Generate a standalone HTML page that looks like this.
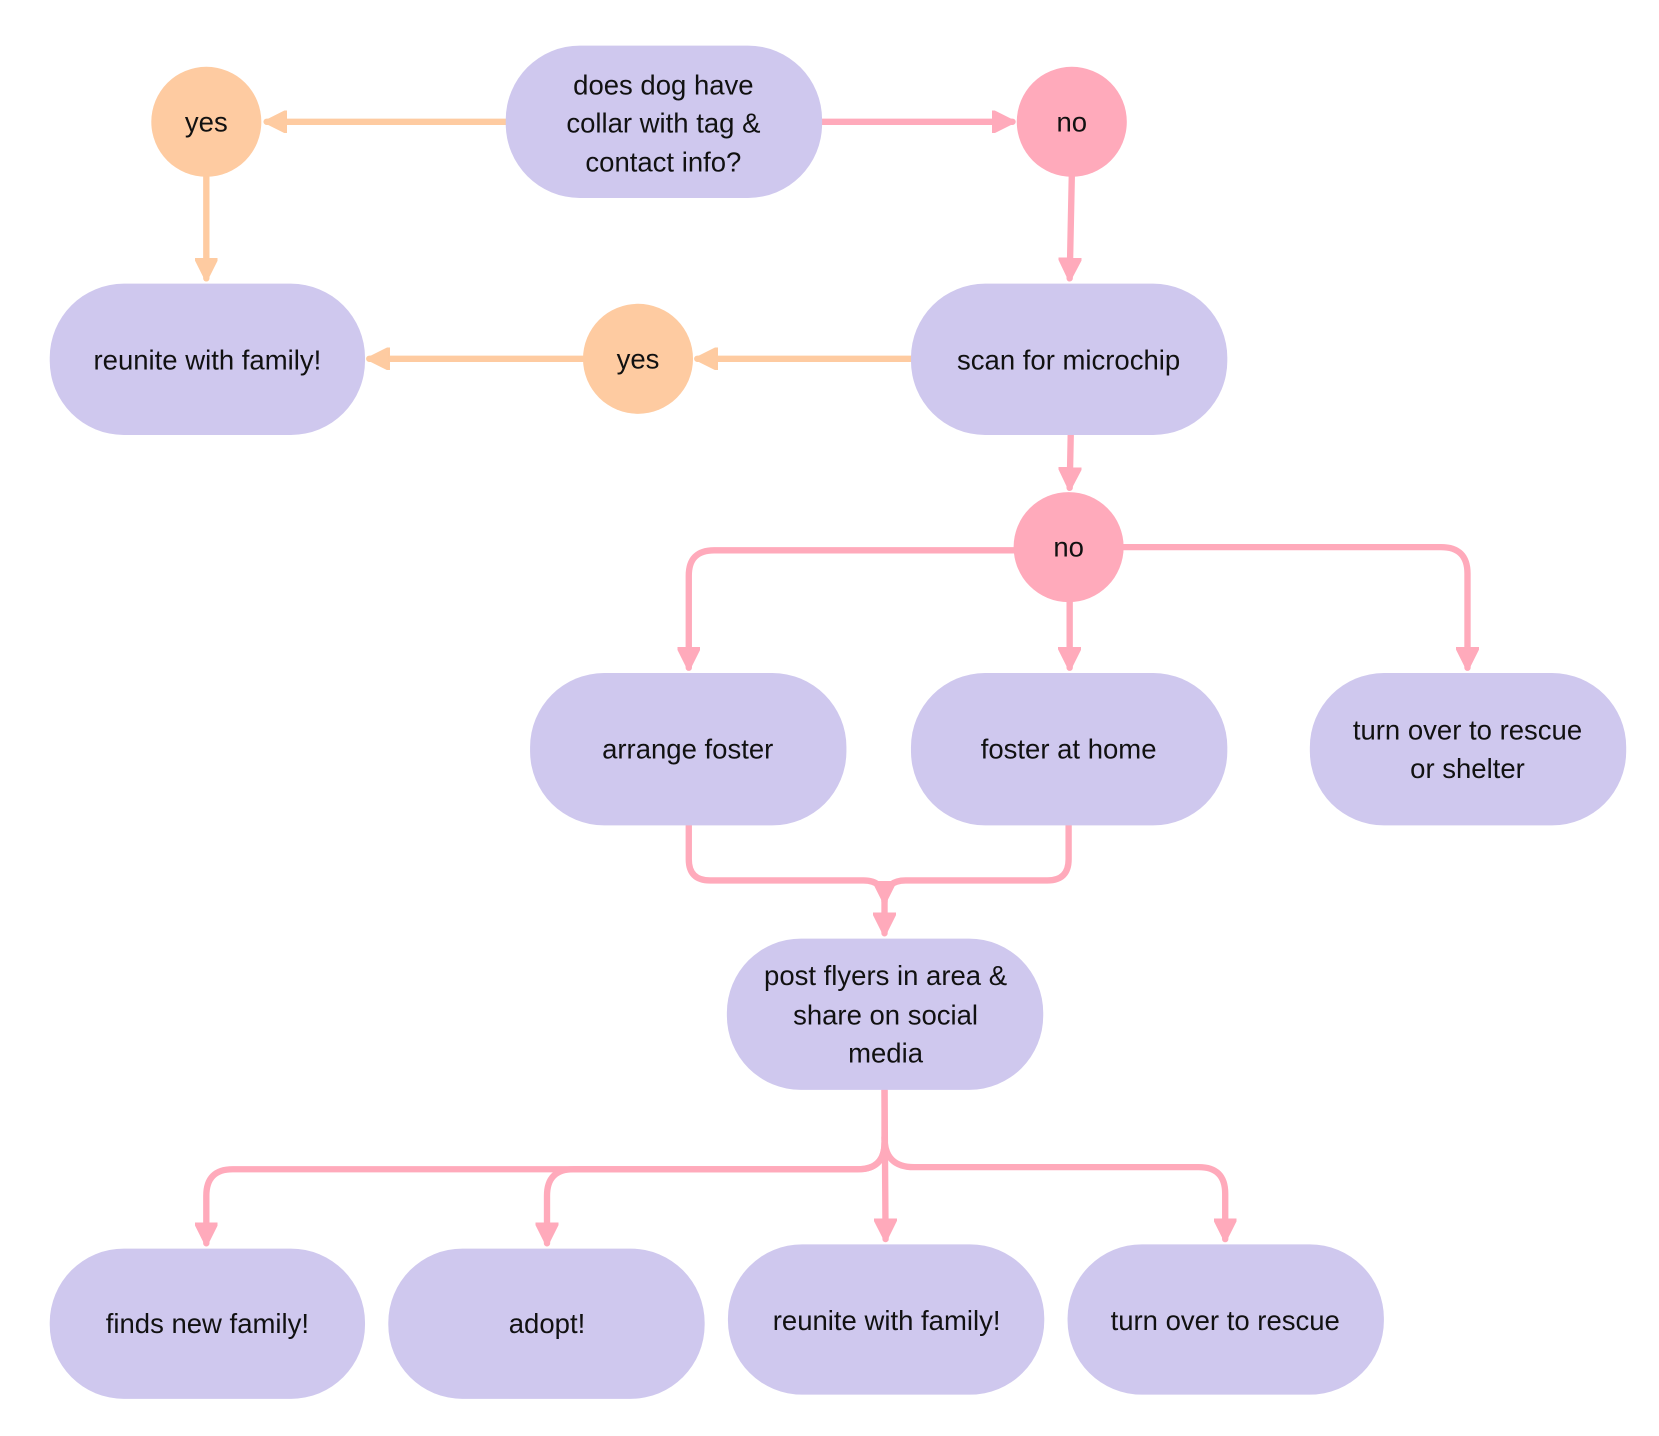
<!DOCTYPE html>
<html><head><meta charset="utf-8"><style>
html,body{margin:0;padding:0;background:#fff;}
svg{display:block;}
text{font-family:"Liberation Sans",sans-serif;font-size:26px;fill:#111;text-anchor:middle;}
</style></head><body>
<svg width="1659" height="1436" viewBox="0 0 1568 1357" xmlns="http://www.w3.org/2000/svg">
<defs>
<marker id="ao" viewBox="0 0 10 10" refX="9" refY="5" markerWidth="3.6" markerHeight="3.6" orient="auto" markerUnits="strokeWidth"><path d="M0,0 L10,5 L0,10 z" fill="#FECBA1" stroke="#FECBA1" stroke-linejoin="round"/></marker>
<marker id="ap" viewBox="0 0 10 10" refX="9" refY="5" markerWidth="3.6" markerHeight="3.6" orient="auto" markerUnits="strokeWidth"><path d="M0,0 L10,5 L0,10 z" fill="#FFAABB" stroke="#FFAABB" stroke-linejoin="round"/></marker>
</defs>
<g fill="none" stroke-width="6" stroke-linecap="round">
<g stroke="#FECBA1" marker-end="url(#ao)">
<path d="M478,115 L252,115"/>
<path d="M195,167 L195,263"/>
<path d="M861,339 L659,339"/>
<path d="M551,339 L349,339"/>
</g>
<g stroke="#FFAABB" marker-end="url(#ap)">
<path d="M777,115 L957,115"/>
<path d="M1013,167 L1011,263"/>
<path d="M1012,411 L1011,461"/>
<path d="M958,520 L675,520 Q651,520 651,544 L651,631"/>
<path d="M1011,569 L1011,631"/>
<path d="M1062,517 L1362,517 Q1387,517 1387,542 L1387,631"/>
<path d="M651,780 L651,812 Q651,832 671,832 L816,832 Q836,832 836,852 L836,882"/>
<path d="M1010,780 L1010,812 Q1010,832 990,832 L856,832 Q836,832 836,852"/>
<path d="M836,1030 L836,1080 Q836,1105 811,1105 L220,1105 Q195,1105 195,1130 L195,1175"/>
<path d="M836,1080 Q836,1105 811,1105 L542,1105 Q517,1105 517,1130 L517,1175"/>
<path d="M836,1030 L837,1171"/>
<path d="M836,1075 Q836,1103 864,1103 L1133,1103 Q1158,1103 1158,1128 L1158,1171"/>
</g>
</g>
<g fill="#CFC8EE">
<rect x="478" y="43" width="299" height="144" rx="70"/>
<rect x="47" y="268" width="298" height="143" rx="70"/>
<rect x="861" y="268" width="299" height="143" rx="70"/>
<rect x="501" y="636" width="299" height="144" rx="70"/>
<rect x="861" y="636" width="299" height="144" rx="70"/>
<rect x="1238" y="636" width="299" height="144" rx="70"/>
<rect x="687" y="887" width="299" height="143" rx="70"/>
<rect x="47" y="1180" width="298" height="142" rx="70"/>
<rect x="367" y="1180" width="299" height="142" rx="70"/>
<rect x="688" y="1176" width="299" height="142" rx="70"/>
<rect x="1009" y="1176" width="299" height="142" rx="70"/>
</g>
<circle cx="195" cy="115" r="52" fill="#FECBA1"/>
<circle cx="603" cy="339" r="52" fill="#FECBA1"/>
<circle cx="1013" cy="115" r="52" fill="#FFAABB"/>
<circle cx="1010" cy="517" r="52" fill="#FFAABB"/>
<text x="627" y="89">does dog have</text>
<text x="627" y="125">collar with tag &amp;</text>
<text x="627" y="162">contact info?</text>
<text x="195" y="124">yes</text>
<text x="603" y="348">yes</text>
<text x="1013" y="124">no</text>
<text x="1010" y="526">no</text>
<text x="196" y="349">reunite with family!</text>
<text x="1010" y="349">scan for microchip</text>
<text x="650" y="717">arrange foster</text>
<text x="1010" y="717">foster at home</text>
<text x="1387" y="699">turn over to rescue</text>
<text x="1387" y="735">or shelter</text>
<text x="837" y="931">post flyers in area &amp;</text>
<text x="837" y="968">share on social</text>
<text x="837" y="1004">media</text>
<text x="196" y="1260">finds new family!</text>
<text x="517" y="1260">adopt!</text>
<text x="838" y="1257">reunite with family!</text>
<text x="1158" y="1257">turn over to rescue</text>
</svg>
</body></html>
